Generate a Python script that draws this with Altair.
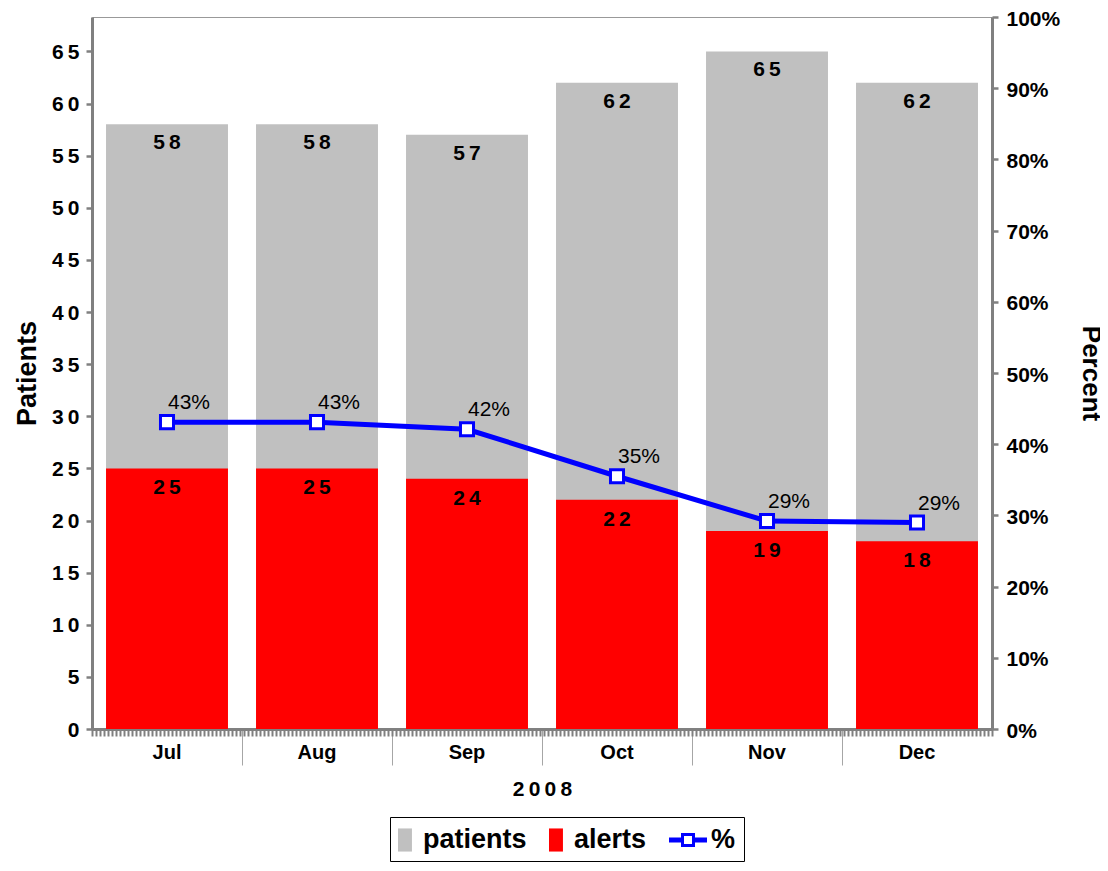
import altair as alt
import pandas as pd

months = ["Jul", "Aug", "Sep", "Oct", "Nov", "Dec"]
patients = [58, 58, 57, 62, 65, 62]
alerts = [25, 25, 24, 22, 19, 18]
percent = [43.1, 43.1, 42.1, 35.5, 29.2, 29.0]
percent_labels = ["43%", "43%", "42%", "35%", "29%", "29%"]
legend_items = ["patients", "alerts", "%"]
left_ticks = list(range(0, 70, 5))
right_ticks = list(range(0, 110, 10))
minor_ticks = list(range(0, 226))

THIN = "\u2009"
df = pd.DataFrame({
    "month": months,
    "patients": patients,
    "alerts": alerts,
    "percent": percent,
    "pct_label": percent_labels,
    "pat_label": [THIN.join(str(v)) for v in patients],
    "al_label": [THIN.join(str(v)) for v in alerts],
})
legend_df = pd.DataFrame({"series": legend_items})

FONT = "Liberation Sans"
AXIS_GRAY = "#808080"
BAR_GRAY = "#C0C0C0"
RED = "#FF0000"
BLUE = "#0000FF"

band_scale = alt.Scale(domain=months, paddingInner=0.187, paddingOuter=0.0935)

x_main = alt.X(
    "month:N", sort=months, scale=band_scale,
    axis=alt.Axis(
        orient="bottom", title="2" + THIN + "0" + THIN + "0" + THIN + "8",
        titleFont=FONT, titleFontSize=21, titleFontWeight="bold", titlePadding=13,
        titleColor="black",
        domainColor=AXIS_GRAY, domainWidth=3,
        bandPosition={"expr": "-0.115"},
        tickColor="#a6a6a6", tickWidth=1, tickSize=36,
        tickOpacity={"condition": {"test": "datum.value === 'Jul'", "value": 0}, "value": 1},
        labelAngle=0, labelAlign="center", labelBaseline="top",
        labelPadding=-23,
        labelFont=FONT, labelFontSize=20, labelFontWeight="bold", labelColor="black",
        grid=False,
    ),
)
x_none = alt.X("month:N", sort=months, scale=band_scale, axis=None)

left_axis = alt.Axis(
    orient="left", title="Patients", values=left_ticks,
    labelExpr="join(split(datum.label, ''), '" + THIN + "')",
    titleFont=FONT, titleFontSize=27, titleFontWeight="bold", titleColor="black",
    titlePadding=10,
    labelFont=FONT, labelFontSize=21, labelFontWeight="bold", labelColor="black",
    labelPadding=7, labelOffset=1,
    domainColor=AXIS_GRAY, domainWidth=3,
    tickColor=AXIS_GRAY, tickWidth=2.5, tickSize=6, grid=False,
)
left_scale = alt.Scale(domain=[0, 68.3], nice=False, zero=True)

base = alt.Chart(df)

bars_p = base.mark_bar(color=BAR_GRAY).encode(
    x=x_main, y=alt.Y("patients:Q", scale=left_scale, axis=left_axis)
)
bars_a = base.mark_bar(color=RED).encode(
    x=x_main, y=alt.Y("alerts:Q", scale=left_scale, axis=left_axis)
)
text_p = base.mark_text(font=FONT, fontSize=21, fontWeight="bold", color="black",
                        baseline="middle", dy=19).encode(
    x=x_main, y=alt.Y("patients:Q", scale=left_scale, axis=left_axis), text="pat_label:N"
)
text_a = base.mark_text(font=FONT, fontSize=21, fontWeight="bold", color="black",
                        baseline="middle", dy=20).encode(
    x=x_main, y=alt.Y("alerts:Q", scale=left_scale, axis=left_axis), text="al_label:N"
)

rect_path = "M-1,-0.77 L-0.07,-0.77 L-0.07,0.77 L-1,0.77 Z"
line_marker_path = (
    "M-2.133,-0.17 L-1.333,-0.17 L-1.333,0.17 L-2.133,0.17 Z "
    "M-0.4,-0.17 L0.4,-0.17 L0.4,0.17 L-0.4,0.17 Z "
    "M-1.333,-0.467 L-0.4,-0.467 L-0.4,0.467 L-1.333,0.467 Z "
    "M-1.133,-0.267 L-1.133,0.267 L-0.6,0.267 L-0.6,-0.267 Z"
)
legend_layer = alt.Chart(legend_df).transform_filter("false").mark_point(filled=True).encode(
    color=alt.Color("series:N", sort=legend_items,
                    scale=alt.Scale(domain=legend_items, range=[BAR_GRAY, RED, BLUE]),
                    legend=alt.Legend(title=None)),
    shape=alt.Shape("series:N", sort=legend_items,
                    scale=alt.Scale(domain=legend_items, range=[rect_path, rect_path, line_marker_path]),
                    legend=alt.Legend(title=None)),
)

left_group = alt.layer(bars_p, bars_a, text_p, text_a, legend_layer)

right_scale = alt.Scale(domain=[0, 100], nice=False)
right_axis = alt.Axis(
    orient="right", title="Percent", values=right_ticks,
    labelExpr="datum.value + '%'",
    titleFont=FONT, titleFontSize=26, titleFontWeight="bold", titleColor="black",
    titlePadding=18, titleAngle=90,
    labelFont=FONT, labelFontSize=21, labelFontWeight="bold", labelColor="black",
    labelPadding=8, labelOffset=2,
    domainColor=AXIS_GRAY, domainWidth=3,
    tickColor=AXIS_GRAY, tickWidth=2.5, tickSize=6, grid=False,
)
line = base.mark_line(color=BLUE, strokeWidth=5).encode(
    x=x_none, y=alt.Y("percent:Q", scale=right_scale, axis=right_axis)
)
pts = base.mark_square(size=170, fill="white", stroke=BLUE, strokeWidth=3, opacity=1).encode(
    x=x_none, y=alt.Y("percent:Q", scale=right_scale, axis=right_axis)
)
pct_text = base.mark_text(font=FONT, fontSize=21, color="black", dx=22, dy=-19,
                          baseline="middle").encode(
    x=x_none, y=alt.Y("percent:Q", scale=right_scale, axis=right_axis), text="pct_label:N"
)
right_group = alt.layer(line, pts, pct_text)

minor_group = alt.Chart(df).transform_filter("false").mark_point().encode(
    x=alt.X("patients:Q", scale=alt.Scale(domain=[0, 225], nice=False, zero=False),
            axis=alt.Axis(orient="bottom", values=minor_ticks, labels=False, domain=False,
                          ticks=True, tickSize=7, tickWidth=2, tickColor=AXIS_GRAY,
                          grid=False, title=None))
)

chart = alt.layer(left_group, right_group, minor_group).resolve_scale(
    x="independent", y="independent"
).properties(
    width=900, height=712,
    autosize=alt.AutoSizeParams(type="none"),
    padding={"left": 84, "top": 9, "right": 108, "bottom": 134},
).configure_view(
    stroke="#999999", strokeWidth=1
).configure_legend(
    orient="none", legendX=298, legendY=800, direction="horizontal",
    strokeColor="black", padding=8,
    labelFont=FONT, labelFontSize=27, labelFontWeight="bold", labelColor="black",
    symbolSize=900, symbolStrokeWidth=0, labelOffset={"expr": "-5"}, columnPadding=22,
    symbolOpacity=1,
)

chart.save("out.html", embed_options={"renderer": "svg", "actions": False})
